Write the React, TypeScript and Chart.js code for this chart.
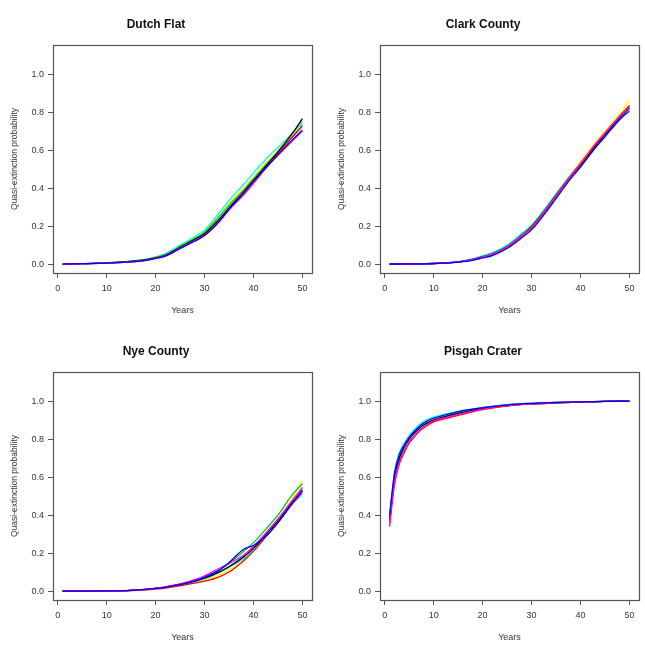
import React, { useEffect, useRef } from "react";
import { Chart, registerables } from "chart.js";

Chart.register(...registerables);

// ---------- data ----------
const SIG_YEARS = [1, 5, 10, 15, 18, 20, 22, 25, 28, 30, 33, 35, 38, 40, 43, 45, 48, 50];
const PISGAH_YEARS = [1, 2, 3, 4, 5, 6, 7, 8, 10, 12, 15, 20, 25, 30, 35, 40, 45, 50];
const X_TICKS = [0, 10, 20, 30, 40, 50];
const Y_TICKS = [0, 0.2, 0.4, 0.6, 0.8, 1.0];
const SERIES_NAMES = ["black", "red", "green3", "blue", "cyan", "magenta", "yellow", "gray"];
const SERIES_COLORS = ["#000000", "#FF0000", "#00CD00", "#0000FF", "#00FFFF", "#FF00FF", "#FFFF00", "#BEBEBE"];
// drawing layer of each series (higher = drawn further below)
const SERIES_LAYER = [4, 3, 5, 1, 6, 2, 8, 7];

const DF_BLACK = [0, 0.002, 0.006, 0.014, 0.022, 0.032, 0.046, 0.088, 0.13, 0.16, 0.235, 0.295, 0.38, 0.44, 0.53, 0.59, 0.69, 0.765];
const DF_RED = [0, 0.002, 0.005, 0.013, 0.021, 0.031, 0.044, 0.084, 0.124, 0.152, 0.225, 0.285, 0.365, 0.425, 0.52, 0.58, 0.67, 0.73];
const DF_GREEN = [0, 0.002, 0.006, 0.015, 0.024, 0.035, 0.05, 0.092, 0.135, 0.168, 0.25, 0.31, 0.39, 0.45, 0.535, 0.59, 0.67, 0.725];
const DF_BLUE = [0, 0.002, 0.005, 0.012, 0.02, 0.03, 0.042, 0.082, 0.12, 0.15, 0.225, 0.29, 0.375, 0.435, 0.52, 0.575, 0.655, 0.705];
const DF_CYAN = [0, 0.002, 0.007, 0.016, 0.026, 0.038, 0.055, 0.1, 0.145, 0.18, 0.27, 0.335, 0.42, 0.48, 0.565, 0.615, 0.69, 0.745];
const DF_MAGENTA = [0, 0.002, 0.005, 0.012, 0.02, 0.03, 0.043, 0.083, 0.122, 0.15, 0.222, 0.285, 0.37, 0.432, 0.518, 0.572, 0.65, 0.7];
const DF_YELLOW = [0, 0.002, 0.006, 0.015, 0.024, 0.036, 0.052, 0.095, 0.14, 0.172, 0.255, 0.32, 0.4, 0.46, 0.545, 0.6, 0.675, 0.735];
const DF_GRAY = [0, 0.002, 0.006, 0.014, 0.023, 0.033, 0.048, 0.09, 0.132, 0.163, 0.24, 0.3, 0.385, 0.445, 0.535, 0.59, 0.685, 0.755];

const CC_BLACK = [0, 0.001, 0.003, 0.012, 0.025, 0.038, 0.052, 0.09, 0.15, 0.195, 0.29, 0.36, 0.46, 0.52, 0.62, 0.68, 0.77, 0.82];
const CC_RED = [0, 0.002, 0.004, 0.01, 0.022, 0.035, 0.05, 0.088, 0.148, 0.19, 0.285, 0.355, 0.46, 0.525, 0.63, 0.69, 0.78, 0.835];
const CC_GREEN = [0, 0.001, 0.003, 0.012, 0.026, 0.04, 0.056, 0.095, 0.155, 0.2, 0.295, 0.365, 0.465, 0.53, 0.625, 0.685, 0.775, 0.83];
const CC_BLUE = [0, 0.001, 0.002, 0.01, 0.02, 0.032, 0.045, 0.082, 0.138, 0.18, 0.275, 0.345, 0.45, 0.51, 0.61, 0.67, 0.76, 0.805];
const CC_CYAN = [0, 0.001, 0.003, 0.013, 0.028, 0.044, 0.06, 0.1, 0.162, 0.205, 0.3, 0.37, 0.47, 0.53, 0.625, 0.68, 0.765, 0.815];
const CC_MAGENTA = [0, 0.001, 0.003, 0.011, 0.024, 0.037, 0.052, 0.09, 0.15, 0.193, 0.29, 0.36, 0.465, 0.53, 0.63, 0.69, 0.775, 0.825];
const CC_YELLOW = [0, 0.001, 0.003, 0.012, 0.025, 0.039, 0.054, 0.092, 0.152, 0.197, 0.3, 0.37, 0.475, 0.54, 0.64, 0.7, 0.79, 0.86];
const CC_GRAY = [0, 0.001, 0.003, 0.011, 0.023, 0.036, 0.05, 0.087, 0.145, 0.188, 0.285, 0.355, 0.455, 0.515, 0.615, 0.675, 0.765, 0.81];

const NC_BLACK = [0, 0, 0.001, 0.004, 0.009, 0.014, 0.02, 0.034, 0.052, 0.068, 0.1, 0.128, 0.18, 0.225, 0.31, 0.37, 0.47, 0.53];
const NC_RED = [0, 0, 0.001, 0.003, 0.007, 0.011, 0.016, 0.028, 0.042, 0.052, 0.075, 0.1, 0.16, 0.21, 0.3, 0.36, 0.46, 0.52];
const NC_GREEN = [0, 0, 0.001, 0.004, 0.009, 0.014, 0.021, 0.036, 0.056, 0.074, 0.11, 0.145, 0.21, 0.255, 0.34, 0.4, 0.51, 0.565];
const NC_BLUE = [0, 0, 0.001, 0.004, 0.009, 0.014, 0.021, 0.035, 0.054, 0.072, 0.11, 0.15, 0.22, 0.24, 0.3, 0.36, 0.465, 0.53];
const NC_CYAN = [0, 0, 0.001, 0.004, 0.008, 0.013, 0.019, 0.032, 0.05, 0.065, 0.1, 0.125, 0.17, 0.215, 0.3, 0.36, 0.46, 0.51];
const NC_MAGENTA = [0, 0, 0.001, 0.004, 0.009, 0.015, 0.022, 0.038, 0.06, 0.08, 0.12, 0.145, 0.19, 0.235, 0.32, 0.38, 0.48, 0.545];
const NC_YELLOW = [0, 0, 0.001, 0.003, 0.007, 0.012, 0.017, 0.03, 0.045, 0.058, 0.085, 0.11, 0.165, 0.215, 0.31, 0.375, 0.49, 0.58];
const NC_GRAY = [0, 0, 0.001, 0.004, 0.008, 0.013, 0.019, 0.033, 0.05, 0.066, 0.1, 0.13, 0.185, 0.23, 0.315, 0.375, 0.475, 0.535];

const PC_BLACK = [0.38, 0.6, 0.7, 0.76, 0.8, 0.83, 0.855, 0.875, 0.9, 0.915, 0.935, 0.96, 0.975, 0.985, 0.99, 0.995, 0.998, 1.0];
const PC_RED = [0.34, 0.56, 0.67, 0.73, 0.78, 0.81, 0.84, 0.86, 0.89, 0.905, 0.925, 0.955, 0.975, 0.985, 0.99, 0.995, 0.998, 1.0];
const PC_GREEN = [0.37, 0.59, 0.69, 0.74, 0.78, 0.815, 0.84, 0.865, 0.895, 0.915, 0.94, 0.965, 0.98, 0.988, 0.993, 0.996, 0.998, 1.0];
const PC_BLUE = [0.4, 0.62, 0.72, 0.77, 0.81, 0.84, 0.865, 0.885, 0.91, 0.925, 0.945, 0.965, 0.98, 0.988, 0.993, 0.996, 0.998, 1.0];
const PC_CYAN = [0.39, 0.63, 0.73, 0.78, 0.82, 0.85, 0.875, 0.895, 0.915, 0.93, 0.945, 0.965, 0.98, 0.988, 0.993, 0.996, 0.998, 1.0];
const PC_MAGENTA = [0.36, 0.58, 0.68, 0.74, 0.785, 0.815, 0.845, 0.865, 0.895, 0.91, 0.93, 0.958, 0.977, 0.986, 0.992, 0.995, 0.998, 1.0];
const PC_YELLOW = [0.38, 0.61, 0.71, 0.76, 0.8, 0.835, 0.86, 0.88, 0.905, 0.92, 0.94, 0.962, 0.978, 0.987, 0.992, 0.996, 0.998, 1.0];
const PC_GRAY = [0.37, 0.6, 0.7, 0.755, 0.795, 0.83, 0.855, 0.875, 0.9, 0.915, 0.935, 0.96, 0.976, 0.986, 0.991, 0.995, 0.998, 1.0];

const PANELS = [
  { title: "Dutch Flat", years: SIG_YEARS, series: [DF_BLACK, DF_RED, DF_GREEN, DF_BLUE, DF_CYAN, DF_MAGENTA, DF_YELLOW, DF_GRAY] },
  { title: "Clark County", years: SIG_YEARS, series: [CC_BLACK, CC_RED, CC_GREEN, CC_BLUE, CC_CYAN, CC_MAGENTA, CC_YELLOW, CC_GRAY] },
  { title: "Nye County", years: SIG_YEARS, series: [NC_BLACK, NC_RED, NC_GREEN, NC_BLUE, NC_CYAN, NC_MAGENTA, NC_YELLOW, NC_GRAY] },
  { title: "Pisgah Crater", years: PISGAH_YEARS, series: [PC_BLACK, PC_RED, PC_GREEN, PC_BLUE, PC_CYAN, PC_MAGENTA, PC_YELLOW, PC_GRAY] },
];

// ---------- rendering ----------
const FONT = "'Liberation Sans', Arial, Helvetica, sans-serif";
const CANVAS_W = 318;
const CANVAS_H = 318;

const boxPlugin = {
  id: "plotBox",
  afterDatasetsDraw(chart: any) {
    const { ctx, chartArea } = chart;
    const l = Math.round(chartArea.left) + 0.5;
    const t = Math.round(chartArea.top) + 0.5;
    const r = Math.round(chartArea.right) + 0.5;
    const b = Math.round(chartArea.bottom) + 0.5;
    ctx.save();
    ctx.strokeStyle = "#555";
    ctx.lineWidth = 1.2;
    ctx.strokeRect(l, t, r - l, b - t);
    ctx.restore();
  },
};

function Panel({ panel }: { panel: any }) {
  const ref = useRef<HTMLCanvasElement | null>(null);
  useEffect(() => {
    if (!ref.current) return;
    const datasets = panel.series.map((vals: number[], i: number) => ({
      label: SERIES_NAMES[i],
      data: vals.map((v, j) => ({ x: panel.years[j], y: v })),
      borderColor: SERIES_COLORS[i],
      backgroundColor: SERIES_COLORS[i],
      borderWidth: 1.3,
      pointRadius: 0,
      fill: false,
      order: SERIES_LAYER[i],
      cubicInterpolationMode: "monotone",
    }));
    const chart = new Chart(ref.current, {
      type: "line",
      data: { datasets },
      plugins: [boxPlugin],
      options: {
        animation: false,
        responsive: false,
        devicePixelRatio: 1,
        layout: { padding: { left: 0, right: 6, top: 0, bottom: 0 } },
        plugins: {
          legend: { display: false },
          tooltip: { enabled: false },
          title: {
            display: true,
            text: panel.title,
            color: "#111",
            font: { family: FONT, size: 12, weight: "bold", lineHeight: 1.2 },
            padding: { top: 17.8, bottom: 12.8 },
          },
        },
        scales: {
          x: {
            type: "linear",
            min: -0.96,
            max: 51.96,
            afterBuildTicks: (s: any) => {
              s.ticks = X_TICKS.map((v) => ({ value: v }));
            },
            afterFit: (s: any) => {
              s.height = 45;
            },
            border: { display: false },
            grid: { display: true, drawOnChartArea: false, drawTicks: true, tickLength: 5, tickColor: "#555", tickWidth: 1 },
            ticks: {
              color: "#333",
              font: { family: FONT, size: 9 },
              padding: 5.6,
              maxRotation: 0,
              autoSkip: false,
              callback: (v: any) => String(v),
            },
            title: {
              display: true,
              text: "Years",
              color: "#333",
              font: { family: FONT, size: 9, lineHeight: 1.2 },
              padding: { top: 0, bottom: 2 },
            },
          },
          y: {
            type: "linear",
            min: -0.047,
            max: 1.153,
            afterBuildTicks: (s: any) => {
              s.ticks = Y_TICKS.map((v) => ({ value: v }));
            },
            afterFit: (s: any) => {
              s.width = 53;
            },
            border: { display: false },
            grid: { display: true, drawOnChartArea: false, drawTicks: true, tickLength: 5, tickColor: "#555", tickWidth: 1 },
            ticks: {
              color: "#333",
              font: { family: FONT, size: 9 },
              padding: 4,
              autoSkip: false,
              callback: (v: any) => Number(v).toFixed(1),
            },
            title: {
              display: true,
              text: "Quasi-extinction probability",
              color: "#333",
              font: { family: FONT, size: 8.5, lineHeight: 1.2 },
              padding: { top: 9.9, bottom: 0 },
            },
          },
        },
      } as any,
    });
    return () => chart.destroy();
  }, [panel]);
  return <canvas ref={ref} width={CANVAS_W} height={CANVAS_H} style={{ display: "block" }} />;
}

export default function App() {
  return (
    <div style={{ position: "absolute", left: 0, top: 0, width: 645, height: 646, background: "#fff", overflow: "hidden" }}>
      {PANELS.map((p, i) => (
        <div
          key={p.title}
          style={{ position: "absolute", left: (i % 2) * 327, top: Math.floor(i / 2) * 327, width: CANVAS_W, height: CANVAS_H }}
        >
          <Panel panel={p} />
        </div>
      ))}
    </div>
  );
}
